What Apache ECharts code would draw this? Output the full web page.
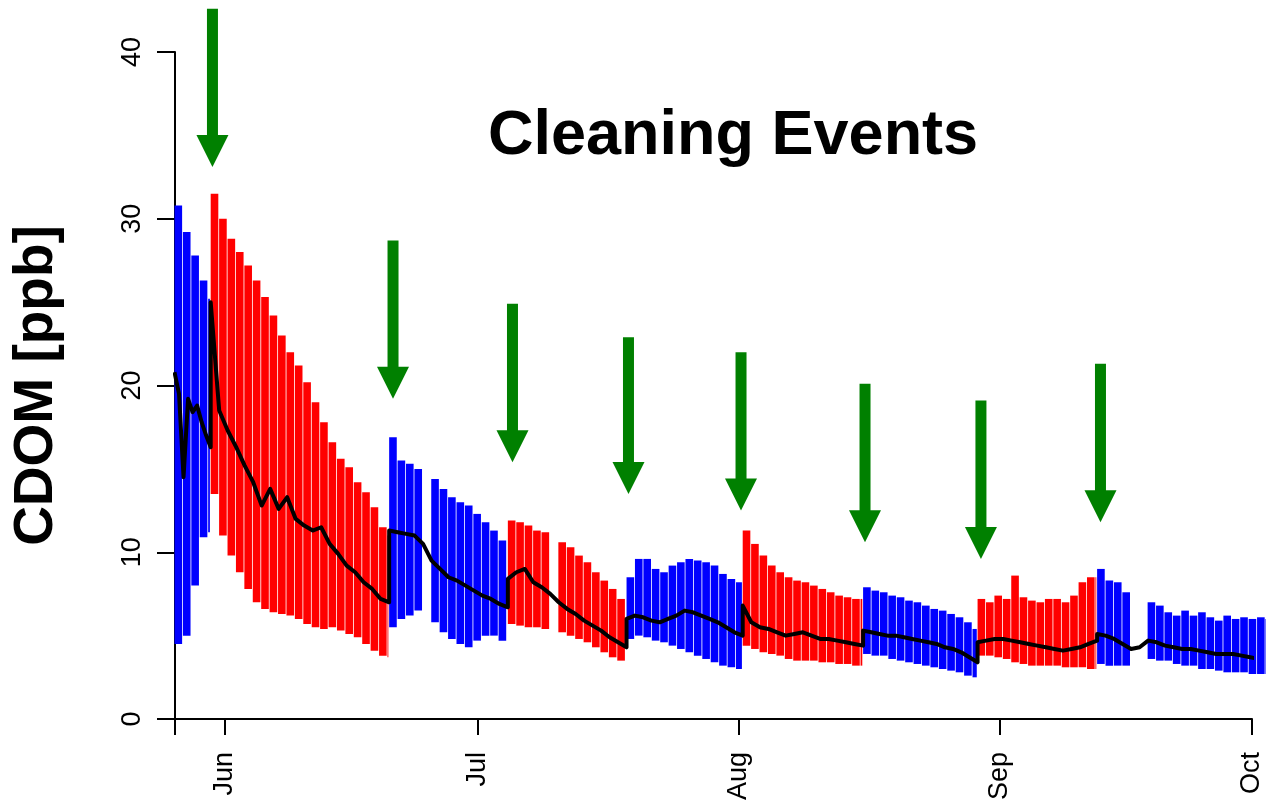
<!DOCTYPE html>
<html>
<head>
<meta charset="utf-8">
<script src="https://cdn.jsdelivr.net/npm/echarts@6/dist/echarts.min.js"></script>
<style>
html,body{margin:0;padding:0;background:#ffffff;}
#chart{width:1266px;height:808px;}
</style>
</head>
<body>
<div id="chart"></div>
<script>
// ---------------- DATA (x = days counted from 26 May, 00:00) ----------------
const axisStartDay = 0.06;
const axisEndDay = 128;              // 1 Oct
const tickDays = [0.06, 6, 36, 67, 98, 128];
const monthTickDays = [6, 36, 67, 98, 128];
const monthLabels = ['Jun', 'Jul', 'Aug', 'Sep', 'Oct'];
const yTicks = [0, 10, 20, 30, 40];

// sensor deployments separated by cleaning events (blue / red alternate)
const segStartDays = [0, 4.3, 25.5, 39.6, 53.7, 67.5, 81.8, 95.4, 109.6];
const dataEndDay = 129.8;

// daily envelope of the raw CDOM signal, per deployment
const segHigh = [
  [30.8, 29.2, 27.8, 26.3, 25.2],
  [31.5, 30.0, 28.8, 28.0, 27.2, 26.3, 25.3, 24.2, 23.0, 22.0, 21.2, 20.2, 19.0, 17.8, 16.6, 15.6, 15.1, 14.2, 13.6, 12.7, 11.5, 11.0],
  [16.9, 15.5, 15.3, 15.0, null, 14.4, 13.8, 13.3, 13.0, 12.8, 12.3, 11.8, 11.3, 10.7],
  [11.9, 11.8, 11.6, 11.3, 11.2, null, 10.6, 10.3, 9.8, 9.4, 8.8, 8.3, 7.8, 7.2],
  [8.5, 9.6, 9.6, 9.0, 8.8, 9.2, 9.4, 9.6, 9.5, 9.4, 9.2, 8.7, 8.4, 8.2],
  [11.3, 10.5, 9.8, 9.2, 8.8, 8.5, 8.3, 8.2, 8.0, 7.8, 7.6, 7.4, 7.3, 7.2, 7.2],
  [7.9, 7.7, 7.6, 7.4, 7.3, 7.1, 7.0, 6.8, 6.6, 6.5, 6.3, 6.1, 5.8, 5.4],
  [7.2, 7.0, 7.4, 7.2, 8.6, 7.3, 7.1, 7.0, 7.2, 7.2, 7.0, 7.4, 8.2, 8.5, 8.5],
  [9.0, 8.3, 8.2, 7.6, null, null, 7.0, 6.8, 6.4, 6.2, 6.5, 6.2, 6.4, 6.1, 5.9, 6.2, 6.0, 6.1, 6.0, 6.1, 6.0]
];
const segLow = [
  [4.5, 5.0, 8.0, 10.9, 11.2],
  [13.5, 11.0, 9.8, 8.8, 7.8, 7.0, 6.6, 6.4, 6.3, 6.2, 6.0, 5.7, 5.5, 5.4, 5.5, 5.3, 5.1, 4.9, 4.5, 4.1, 3.8, 3.7],
  [5.5, 6.0, 6.2, 6.5, null, 5.8, 5.2, 4.8, 4.5, 4.3, 4.7, 5.0, 5.0, 4.7],
  [5.7, 5.6, 5.5, 5.5, 5.4, null, 5.2, 5.0, 4.8, 4.6, 4.3, 4.0, 3.7, 3.5],
  [4.8, 5.0, 4.9, 4.7, 4.6, 4.4, 4.2, 4.0, 3.8, 3.6, 3.4, 3.2, 3.1, 3.0],
  [4.4, 4.2, 4.0, 3.9, 3.8, 3.6, 3.5, 3.5, 3.5, 3.4, 3.4, 3.3, 3.3, 3.2, 3.2],
  [3.9, 3.8, 3.8, 3.6, 3.5, 3.4, 3.3, 3.2, 3.1, 3.0, 2.9, 2.8, 2.6, 2.5],
  [3.8, 3.8, 3.7, 3.6, 3.4, 3.3, 3.2, 3.2, 3.2, 3.2, 3.1, 3.1, 3.1, 3.0, 3.0],
  [3.3, 3.2, 3.2, 3.2, null, null, 3.6, 3.5, 3.5, 3.3, 3.2, 3.2, 3.0, 3.0, 2.9, 2.8, 2.8, 2.8, 2.7, 2.7, 2.7]
];
// running median (black line), evenly spaced across each deployment
const segMedian = [
  [20.8, 19.5, 14.5, 19.2, 18.4, 18.8, 17.8, 17.0, 16.3],
  [25.0, 18.5, 17.3, 16.3, 15.2, 14.2, 12.8, 13.8, 12.6, 13.3, 12.0, 11.6, 11.3, 11.5, 10.5, 9.9, 9.2, 8.8, 8.2, 7.8, 7.2, 7.0],
  [11.3, 11.2, 11.1, 11.0, 10.5, 9.5, 9.0, 8.5, 8.3, 8.0, 7.7, 7.4, 7.2, 6.9, 6.7],
  [8.4, 8.8, 9.0, 8.2, 7.9, 7.5, 7.0, 6.6, 6.3, 5.9, 5.6, 5.3, 4.9, 4.6, 4.3],
  [6.0, 6.2, 6.1, 5.9, 5.8, 6.0, 6.2, 6.5, 6.4, 6.2, 6.0, 5.8, 5.5, 5.2, 5.0],
  [6.8, 5.8, 5.5, 5.4, 5.2, 5.0, 5.1, 5.2, 5.0, 4.8, 4.8, 4.7, 4.6, 4.5, 4.4],
  [5.3, 5.2, 5.1, 5.0, 5.0, 4.9, 4.8, 4.7, 4.6, 4.5, 4.3, 4.2, 4.0, 3.7, 3.4],
  [4.6, 4.7, 4.8, 4.8, 4.7, 4.6, 4.5, 4.4, 4.3, 4.2, 4.1, 4.2, 4.3, 4.5, 4.7],
  [5.1, 5.0, 4.8, 4.5, 4.2, 4.3, 4.7, 4.6, 4.4, 4.3, 4.2, 4.2, 4.1, 4.0, 3.9, 3.9, 3.9, 3.8, 3.7, 3.6, 3.5]
];

// cleaning event arrows: day, arrow tail value, arrow tip value
const arrowDays = [4.51, 25.96, 40.15, 53.93, 67.3, 82.03, 95.8, 110.0];
const arrowTop  = [42.6, 28.7, 24.9, 22.9, 22.0, 20.1, 19.1, 21.3];
const arrowTip  = [33.1, 19.2, 15.4, 13.5, 12.5, 10.6, 9.6, 11.8];

const titleText = 'Cleaning Events';
const yAxisTitle = 'CDOM [ppb]';

// ---------------- BUILD ----------------
const FONT = '"Liberation Sans", Arial, Helvetica, sans-serif';
const BLUE = '#0000ff', RED = '#ff0000', GREEN = '#008000';

const blueBars = [], redBars = [], medianPts = [];
segStartDays.forEach((s, si) => {
  const e = si + 1 < segStartDays.length ? segStartDays[si + 1] : dataEndDay;
  const target = si % 2 === 0 ? blueBars : redBars;
  segHigh[si].forEach((h, i) => {
    const l = segLow[si][i];
    const d0 = s + i;
    if (h == null || l == null || d0 >= e) return;
    const d1 = Math.min(s + i + 1, e);
    target.push([d0, d1, l, h]);
  });
  const m = segMedian[si];
  m.forEach((v, j) => {
    medianPts.push([s + j * (e - s) / (m.length - 1), v]);
  });
});
const arrows = arrowDays.map((d, i) => [d, arrowTop[i], arrowTip[i]]);

function barItem(color) {
  return function (params, api) {
    const p0 = api.coord([api.value(0), api.value(3)]);
    const p1 = api.coord([api.value(1), api.value(2)]);
    const w = Math.max(p1[0] - p0[0] - 0.8, 0.8);
    return {
      type: 'rect',
      shape: { x: p0[0], y: p0[1], width: w, height: p1[1] - p0[1] },
      style: { fill: color }
    };
  };
}

const chart = echarts.init(document.getElementById('chart'), null, { renderer: 'canvas' });
chart.setOption({
  animation: false,
  backgroundColor: '#ffffff',
  title: {
    text: titleText,
    left: 488, top: 105, padding: 0,
    textStyle: { fontSize: 63, fontWeight: 'bold', color: '#000', fontFamily: FONT }
  },
  grid: { left: 175, right: 14, top: 52, bottom: 89, containLabel: false },
  xAxis: {
    type: 'value',
    min: axisStartDay, max: axisEndDay,
    axisLine: { show: true, lineStyle: { color: '#000', width: 2 } },
    axisTick: { show: true, length: 16, lineStyle: { color: '#000', width: 2 },
                customValues: tickDays },
    axisLabel: {
      customValues: monthTickDays,
      formatter: v => {
        const i = monthTickDays.findIndex(d => Math.abs(d - v) < 0.01);
        return i >= 0 ? monthLabels[i] : '';
      },
      rotate: 90, margin: 33, fontSize: 27, color: '#000', fontFamily: FONT
    },
    splitLine: { show: false }
  },
  yAxis: {
    type: 'value', min: yTicks[0], max: yTicks[yTicks.length - 1], interval: 10,
    name: yAxisTitle, nameLocation: 'middle', nameGap: 111,
    nameTextStyle: { fontSize: 55, fontWeight: 'bold', color: '#000', fontFamily: FONT },
    axisLine: { show: true, lineStyle: { color: '#000', width: 2 } },
    axisTick: { show: true, length: 18, lineStyle: { color: '#000', width: 2 } },
    axisLabel: { rotate: 90, margin: 29, fontSize: 27, color: '#000', fontFamily: FONT },
    splitLine: { show: false }
  },
  series: [
    { type: 'custom', name: 'blue', renderItem: barItem(BLUE), data: blueBars,
      encode: { x: [0, 1], y: [2, 3] }, z: 2, silent: true, clip: false },
    { type: 'custom', name: 'red', renderItem: barItem(RED), data: redBars,
      encode: { x: [0, 1], y: [2, 3] }, z: 2, silent: true, clip: false },
    { type: 'line', name: 'median', data: medianPts, showSymbol: false, symbol: 'none',
      clip: false, z: 3, silent: true,
      lineStyle: { color: '#000', width: 4, join: 'round' } },
    { type: 'custom', name: 'cleaning', data: arrows, encode: { x: 0, y: [1, 2] }, z: 4, silent: true, clip: false,
      renderItem: (params, api) => {
        const top = api.coord([api.value(0), api.value(1)]);
        const tip = api.coord([api.value(0), api.value(2)]);
        const headH = 32, headW = 32, shaftW = 11;
        return {
          type: 'group',
          children: [
            { type: 'rect', shape: { x: top[0] - shaftW / 2, y: top[1], width: shaftW, height: tip[1] - headH - top[1] + 1 },
              style: { fill: GREEN } },
            { type: 'polygon', shape: { points: [[tip[0] - headW / 2, tip[1] - headH], [tip[0] + headW / 2, tip[1] - headH], [tip[0], tip[1]]] },
              style: { fill: GREEN } }
          ]
        };
      } }
  ]
});
</script>
</body>
</html>
